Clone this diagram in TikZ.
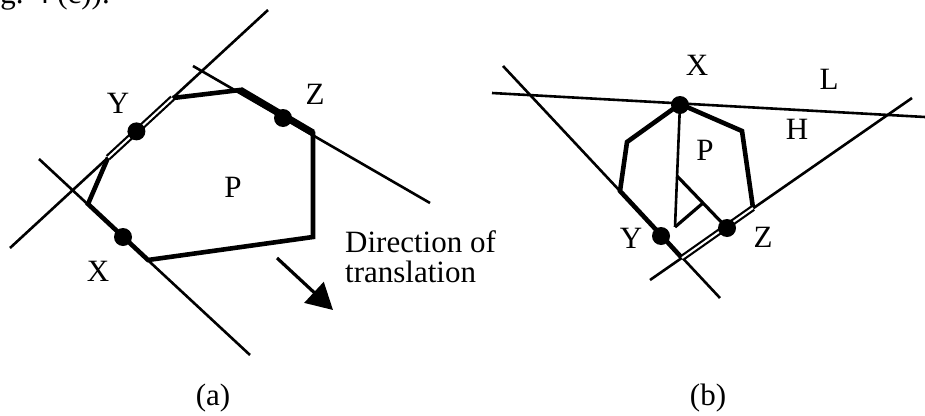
\documentclass[tikz,border=0pt]{standalone}
\usepackage{fontspec}
\setmainfont{Liberation Serif}
\usetikzlibrary{arrows.meta,calc}
\begin{document}
\begin{tikzpicture}[x=1pt,y=-1pt,
  thinline/.style={line width=2.6pt},
  midline/.style={line width=3.2pt},
  polyline/.style={line width=4.6pt, line join=miter},
  heavyline/.style={line width=7pt},
  dblline/.style={double, line width=2.2pt, double distance=2pt},
  blackdot/.style={circle, fill=black, inner sep=0pt, minimum size=18pt},
  lbl/.style={font=\fontsize{31}{37}\selectfont, inner sep=0pt, anchor=base},
]
\useasboundingbox (0,0) rectangle (925,415);
\clip (0,0) rectangle (925,415);

% cut-off text at the top
\node[lbl, anchor=base east] (cut) at (110,3) {g. 4 (c)).};

% ---------- (a) ----------
\coordinate (yA) at (268,10);
\coordinate (yB) at (10,248);
\coordinate (zA) at (193,66);
\coordinate (zB) at (430,203);
\coordinate (xA) at (39,159);
\coordinate (xB) at (250,355);
\coordinate (V1) at (88,204);
\coordinate (V2) at ($(yA)!0.62!(yB)$);
\coordinate (V3) at ($(yA)!0.37!(yB)$);
\coordinate (V4) at (240,90);
\coordinate (V5) at (313,133);
\coordinate (V6) at (313,237);
\coordinate (V7) at (148,260);

\draw[thinline] (yA) -- (yB);
\draw[thinline] (zA) -- (zB);
\draw[thinline] (xA) -- (xB);
\draw[polyline] (V3) -- (V4) -- (V5) -- (V6) -- (V7) -- (V1) -- (V2);
\draw[heavyline] (V4) -- (V5);
\draw[dblline] (V2) -- (V3);

\node[blackdot] (dYa) at ($(yA)!0.51!(yB)$) {};
\node[blackdot] (dXa) at (123,237) {};
\node[blackdot] (dZa) at (283,118) {};

\node[lbl] (lYa) at (118,113) {Y};
\node[lbl] (lZa) at (315,104) {Z};
\node[lbl] (lPa) at (233,197) {P};
\node[lbl] (lXa) at (98,281) {X};
\node[lbl] (capa) at (213,405) {(a)};

\coordinate (ar1) at (277,258);
\coordinate (ar2) at (333,310);
\draw[midline, -{Triangle[length=26pt,width=28pt]}] (ar1) -- (ar2);
\node[lbl, anchor=base west] (dir1) at (345,252) {Direction of};
\node[lbl, anchor=base west] (dir2) at (345,282) {translation};

% ---------- (b) ----------
\coordinate (lA) at (492,93);
\coordinate (lB) at (925,117);
\coordinate (leA) at (503,66);
\coordinate (leB) at (720,298);
\coordinate (riA) at (912,98);
\coordinate (riB) at (650,280);
\coordinate (X) at (680,104);
\coordinate (W2) at (627,142);
\coordinate (W3) at (620,191);
\coordinate (Yp) at (660,234);
\coordinate (W5) at (682,258);
\coordinate (W6) at (753,208);
\coordinate (W7) at (742,131);
\coordinate (c1) at (675,227);
\coordinate (c2) at (703,203);
\coordinate (c3) at (677,176);

\draw[thinline] (lA) -- (lB);
\draw[thinline] (leA) -- (leB);
\draw[thinline] (riA) -- (riB);
\draw[polyline] (W6) -- (W7) -- (X) -- (W2) -- (W3) -- (Yp) -- (W5);
\draw[dblline] (W5) -- (W6);
\draw[thinline] (X) -- (c1);
\draw[midline] (c1) -- (c2);

\node[blackdot] (dXb) at (680,105) {};
\node[blackdot] (dYb) at (661,236) {};
\node[blackdot] (dZb) at (727,228) {};
\draw[midline] (c3) -- (dZb.center);

\node[lbl] (lXb) at (697,75) {X};
\node[lbl] (lLb) at (829,89) {L};
\node[lbl] (lHb) at (797,139) {H};
\node[lbl] (lPb) at (705,160) {P};
\node[lbl] (lYb) at (631,248) {Y};
\node[lbl] (lZb) at (763,247) {Z};
\node[lbl] (capb) at (708,405) {(b)};
\end{tikzpicture}
\end{document}
